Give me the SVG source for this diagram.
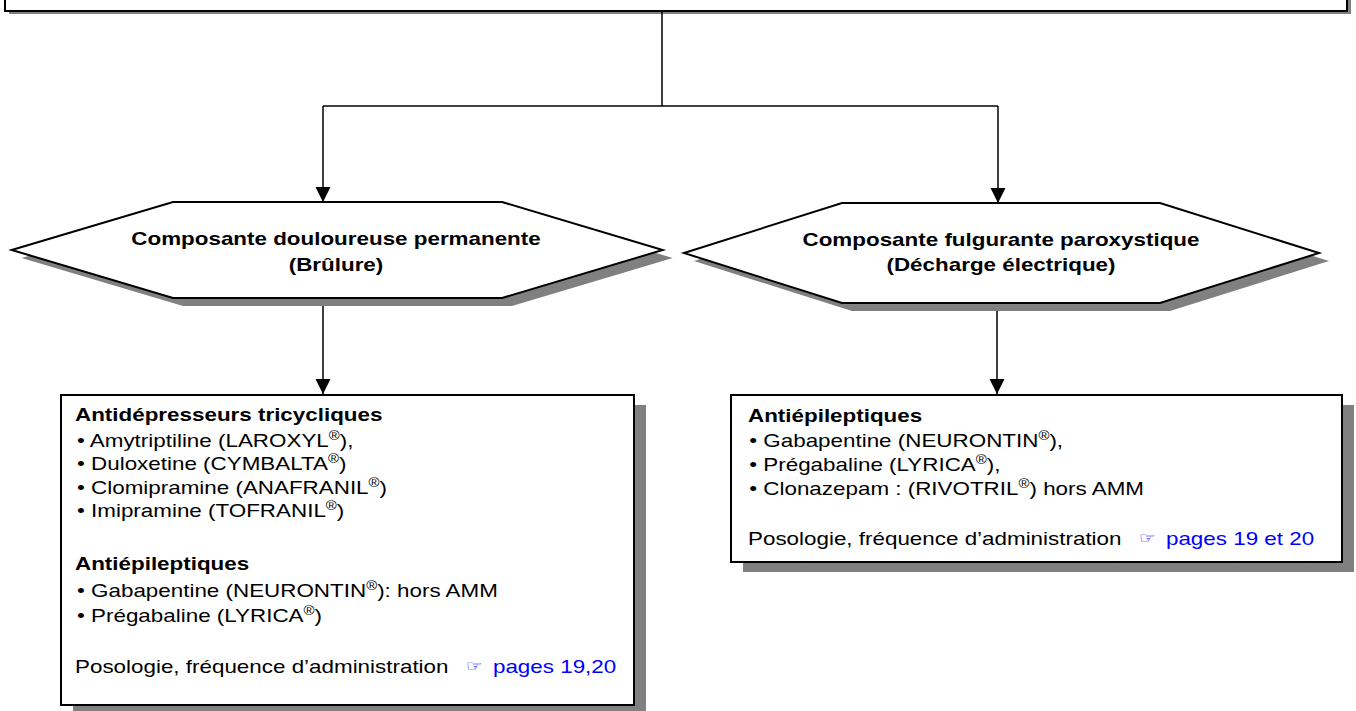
<svg xmlns="http://www.w3.org/2000/svg" width="1356" height="711" viewBox="0 0 1356 711">
<style>
  .box{fill:#fff;stroke:#000;stroke-width:2}
  .shadow{fill:#808080;stroke:none}
  .conn{fill:none;stroke:#000;stroke-width:1.5}
  text{font-family:"Liberation Sans",Arial,Helvetica,sans-serif;font-size:18px;fill:#000}
  .b{font-weight:bold}
  .sup{font-size:12px}
  .blue{fill:#0000ff}
  .hand{font-family:"DejaVu Sans",sans-serif;font-size:15px;fill:#0000ff}
</style>
<defs>
  <marker id="arr" markerUnits="userSpaceOnUse" markerWidth="16" markerHeight="16" refX="15" refY="7.5" orient="auto">
    <path d="M0,0 L15,7.5 L0,15 z" fill="#000"/>
  </marker>
</defs>

<g id="top-box">
  <rect class="shadow" x="9" y="-17" width="1342" height="31"/>
  <rect class="box" x="5" y="-20" width="1342" height="31"/>
</g>

<g id="connectors">
  <path class="conn" d="M662 11 V106"/>
  <path class="conn" d="M323 106 H998"/>
  <path class="conn" d="M323 106 V202" marker-end="url(#arr)"/>
  <path class="conn" d="M998 106 V203" marker-end="url(#arr)"/>
  <path class="conn" d="M323 298 V394" marker-end="url(#arr)"/>
  <path class="conn" d="M997 298 V394" marker-end="url(#arr)"/>
</g>

<g id="hex-left">
  <polygon class="shadow" points="21.7,258 183,210 512,210 672.7,258 512,306 183,306"/>
  <polygon class="box" points="11.7,250 173,202 502,202 662.7,250 502,298 173,298"/>
  <g transform="translate(336 0) scale(1.245 1)">
    <text class="b" x="0" y="245" text-anchor="middle">Composante douloureuse permanente</text>
    <text class="b" x="0" y="271" text-anchor="middle">(Brûlure)</text>
  </g>
</g>

<g id="hex-right">
  <polygon class="shadow" points="694,261 852,211 1170,211 1329,261 1170,311 852,311"/>
  <polygon class="box" points="684,253 842,203 1160,203 1319,253 1160,303 842,303"/>
  <g transform="translate(1001 0) scale(1.245 1)">
    <text class="b" x="0" y="246" text-anchor="middle">Composante fulgurante paroxystique</text>
    <text class="b" x="0" y="271" text-anchor="middle">(Décharge électrique)</text>
  </g>
</g>

<g id="box-left">
  <rect class="shadow" x="73" y="405" width="573" height="310"/>
  <rect class="box" x="61" y="395" width="573" height="310"/>
  <g transform="translate(75 0) scale(1.245 1)">
    <text class="b" x="0" y="421">Antidépresseurs tricycliques</text>
    <text x="1.6" y="447">• Amytriptiline (LAROXYL<tspan class="sup" dy="-7">®</tspan><tspan dy="7">),</tspan></text>
    <text x="1.6" y="470">• Duloxetine (CYMBALTA<tspan class="sup" dy="-7">®</tspan><tspan dy="7">)</tspan></text>
    <text x="1.6" y="494">• Clomipramine (ANAFRANIL<tspan class="sup" dy="-7">®</tspan><tspan dy="7">)</tspan></text>
    <text x="1.6" y="517">• Imipramine (TOFRANIL<tspan class="sup" dy="-7">®</tspan><tspan dy="7">)</tspan></text>
    <text class="b" x="0" y="570">Antiépileptiques</text>
    <text x="1.6" y="597">• Gabapentine (NEURONTIN<tspan class="sup" dy="-7">®</tspan><tspan dy="7">): hors AMM</tspan></text>
    <text x="1.6" y="622">• Prégabaline (LYRICA<tspan class="sup" dy="-7">®</tspan><tspan dy="7">)</tspan></text>
    <text x="0" y="673">Posologie, fréquence d’administration</text>
    <text class="hand" x="314" y="671">☞</text>
    <text class="blue" x="335.7" y="673">pages 19,20</text>
  </g>
</g>

<g id="box-right">
  <rect class="shadow" x="743" y="405" width="611" height="167"/>
  <rect class="box" x="731" y="395" width="611" height="167"/>
  <g transform="translate(748 0) scale(1.245 1)">
    <text class="b" x="0" y="422">Antiépileptiques</text>
    <text x="1" y="447">• Gabapentine (NEURONTIN<tspan class="sup" dy="-7">®</tspan><tspan dy="7">),</tspan></text>
    <text x="1" y="471">• Prégabaline (LYRICA<tspan class="sup" dy="-7">®</tspan><tspan dy="7">),</tspan></text>
    <text x="1" y="495">• Clonazepam : (RIVOTRIL<tspan class="sup" dy="-7">®</tspan><tspan dy="7">) hors AMM</tspan></text>
    <text x="0" y="545">Posologie, fréquence d’administration</text>
    <text class="hand" x="314" y="543">☞</text>
    <text class="blue" x="335.7" y="545">pages 19 et 20</text>
  </g>
</g>
</svg>
